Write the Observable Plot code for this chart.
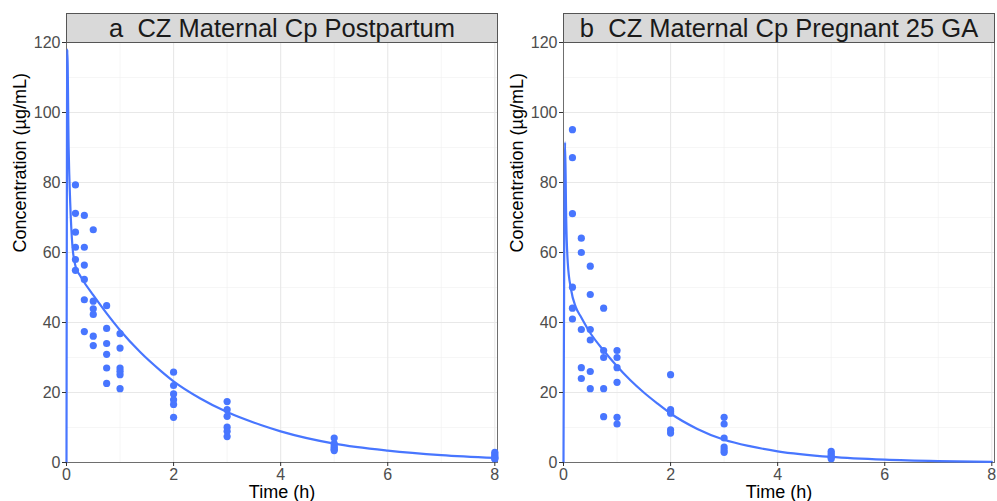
<!DOCTYPE html>
<html><head><meta charset="utf-8">
<script src="https://cdn.jsdelivr.net/npm/d3@7"></script>
<script src="https://cdn.jsdelivr.net/npm/@observablehq/plot@0.6"></script>
<style>
body{margin:0;background:#fff;font-family:"Liberation Sans",Arial,sans-serif;}
#wrap{position:relative;width:997px;height:501px;display:flex;}
.panel{position:relative;height:501px;}
.strip{position:absolute;top:13px;height:30px;background:#d9d9d9;border:1px solid #555;box-sizing:border-box;
  font-size:25.5px;color:#1a1a1a;text-align:center;line-height:28px;white-space:pre;}
</style>
</head><body>
<div id="wrap"><div class="panel" id="pa"></div><div class="panel" id="pb"></div></div>
<script>
// ---- data ----
const titles = ["a  CZ Maternal Cp Postpartum", "b  CZ Maternal Cp Pregnant 25 GA"];
const xTicks = [0, 2, 4, 6, 8];
const xMinor = [1, 3, 5, 7];
const yTicks = [0, 20, 40, 60, 80, 100, 120];
const yMinor = [10, 30, 50, 70, 90, 110];

// Panel a observations
const timesA = [0.167, 0.333, 0.5, 0.75, 1, 2, 3, 5, 8];
const concA = [
  [79.3, 71.2, 65.8, 61.5, 58.0, 54.9],
  [70.6, 61.5, 56.4, 52.3, 46.5, 37.4],
  [66.5, 46.1, 43.9, 42.3, 36.1, 33.4],
  [44.8, 38.3, 34.0, 30.9, 27.0, 22.6],
  [36.8, 32.7, 27.0, 26.1, 25.1, 21.1],
  [25.8, 22.0, 19.6, 17.9, 16.6, 12.9],
  [17.4, 15.1, 13.2, 10.1, 8.9, 7.4],
  [7.0, 5.4, 4.8, 4.2, 3.8, 3.4],
  [2.9, 2.4, 1.9, 1.5, 1.2, 1.0]
];
// Panel a fitted curve
const curveTimeA = [0, 0.015, 0.04, 0.07, 0.11, 0.17, 0.25, 0.33, 0.5, 0.75, 1.0, 1.38, 1.76, 2.0, 2.5, 3.0, 3.63, 4.0, 5.0, 6.0, 7.0, 8.0];
const curveConcA = [0, 118, 90, 74, 62, 56, 53.5, 51.5, 47.8, 42.6, 37.8, 31.5, 26.2, 23.2, 18.3, 14.4, 10.7, 8.9, 5.4, 3.4, 2.1, 1.3];

// Panel b observations
const timesB = [0.167, 0.333, 0.5, 0.75, 1, 2, 3, 5];
const concB = [
  [95.1, 87.1, 71.1, 50.1, 44.1, 41.0],
  [64.1, 60.0, 38.0, 27.1, 24.0],
  [56.1, 48.0, 38.0, 35.0, 26.0, 21.1],
  [44.1, 32.0, 30.0, 21.1, 13.1],
  [32.0, 30.0, 27.1, 22.9, 12.9, 11.0],
  [25.1, 15.1, 14.6, 14.1, 9.3, 8.4],
  [12.9, 11.0, 7.0, 4.4, 3.6, 2.9],
  [3.2, 2.6, 2.0, 1.5, 1.1]
];
// Panel b fitted curve
const curveTimeB = [0, 0.03, 0.05, 0.08, 0.14, 0.23, 0.33, 0.5, 0.75, 1.0, 1.25, 1.5, 1.75, 2.0, 2.5, 3.0, 3.5, 4.0, 5.0, 6.0, 7.0, 8.0];
const curveConcB = [0, 91.5, 70, 57, 49.5, 44.4, 41.5, 37, 32, 27.5, 23.5, 20, 16.9, 14, 9.6, 6.5, 4.6, 3.2, 1.6, 0.8, 0.4, 0.2];

const blue = "#4876FF";

function panel(el, opts) {
  const pts = [];
  opts.times.forEach((t, i) => opts.conc[i].forEach(c => pts.push({t, c})));
  const curve = opts.cT.map((t, i) => ({t, c: opts.cC[i]}));
  const chart = Plot.plot({
    width: opts.width, height: 501,
    marginLeft: opts.marginLeft, marginRight: 3, marginTop: 42, marginBottom: 39,
    x: {domain: [0, 8.05]},
    y: {domain: [0, 120]},
    style: {fontFamily: "Liberation Sans, Arial, sans-serif", background: "white", overflow: "visible"},
    marks: [
      Plot.gridY(yMinor, {stroke: "#f0f0f0", strokeOpacity: 1, strokeWidth: 0.6}),
      Plot.gridX(xMinor, {stroke: "#f0f0f0", strokeOpacity: 1, strokeWidth: 0.6}),
      Plot.gridY(yTicks, {stroke: "#e8e8e8", strokeOpacity: 1, strokeWidth: 1.1}),
      Plot.gridX(xTicks, {stroke: "#e8e8e8", strokeOpacity: 1, strokeWidth: 1.1}),
      Plot.frame({stroke: "#6e6e6e", strokeWidth: 1}),
      Plot.line(curve, {x: "t", y: "c", stroke: blue, strokeWidth: 2.2, curve: "monotone-x"}),
      Plot.dot(pts, {x: "t", y: "c", r: 3.6, fill: blue, stroke: "none"}),
      Plot.axisY(yTicks, {tickSize: 4, tickPadding: 2, fontSize: 16, color: "#4d4d4d", stroke: "#333", label: null}),
      Plot.axisX(xTicks, {tickSize: 4, tickPadding: 2, fontSize: 16, color: "#4d4d4d", stroke: "#333", label: null}),
      Plot.text(["Concentration (µg/mL)"], {frameAnchor: "left", rotate: -90, dx: -46, fontSize: 18, fill: "black"}),
      Plot.text(["Time (h)"], {frameAnchor: "bottom", dy: 35, fontSize: 18, fill: "black"})
    ]
  });
  el.style.width = opts.width + "px";
  el.appendChild(chart);
  const s = document.createElement("div");
  s.className = "strip";
  s.textContent = opts.title;
  s.style.left = opts.marginLeft + "px";
  s.style.width = (opts.width - opts.marginLeft - 3 + 1) + "px";
  el.appendChild(s);
}

panel(document.getElementById("pa"), {times: timesA, conc: concA, cT: curveTimeA, cC: curveConcA, width: 500, marginLeft: 66, title: titles[0]});
panel(document.getElementById("pb"), {times: timesB, conc: concB, cT: curveTimeB, cC: curveConcB, width: 497, marginLeft: 63, title: titles[1]});
</script>
</body></html>
